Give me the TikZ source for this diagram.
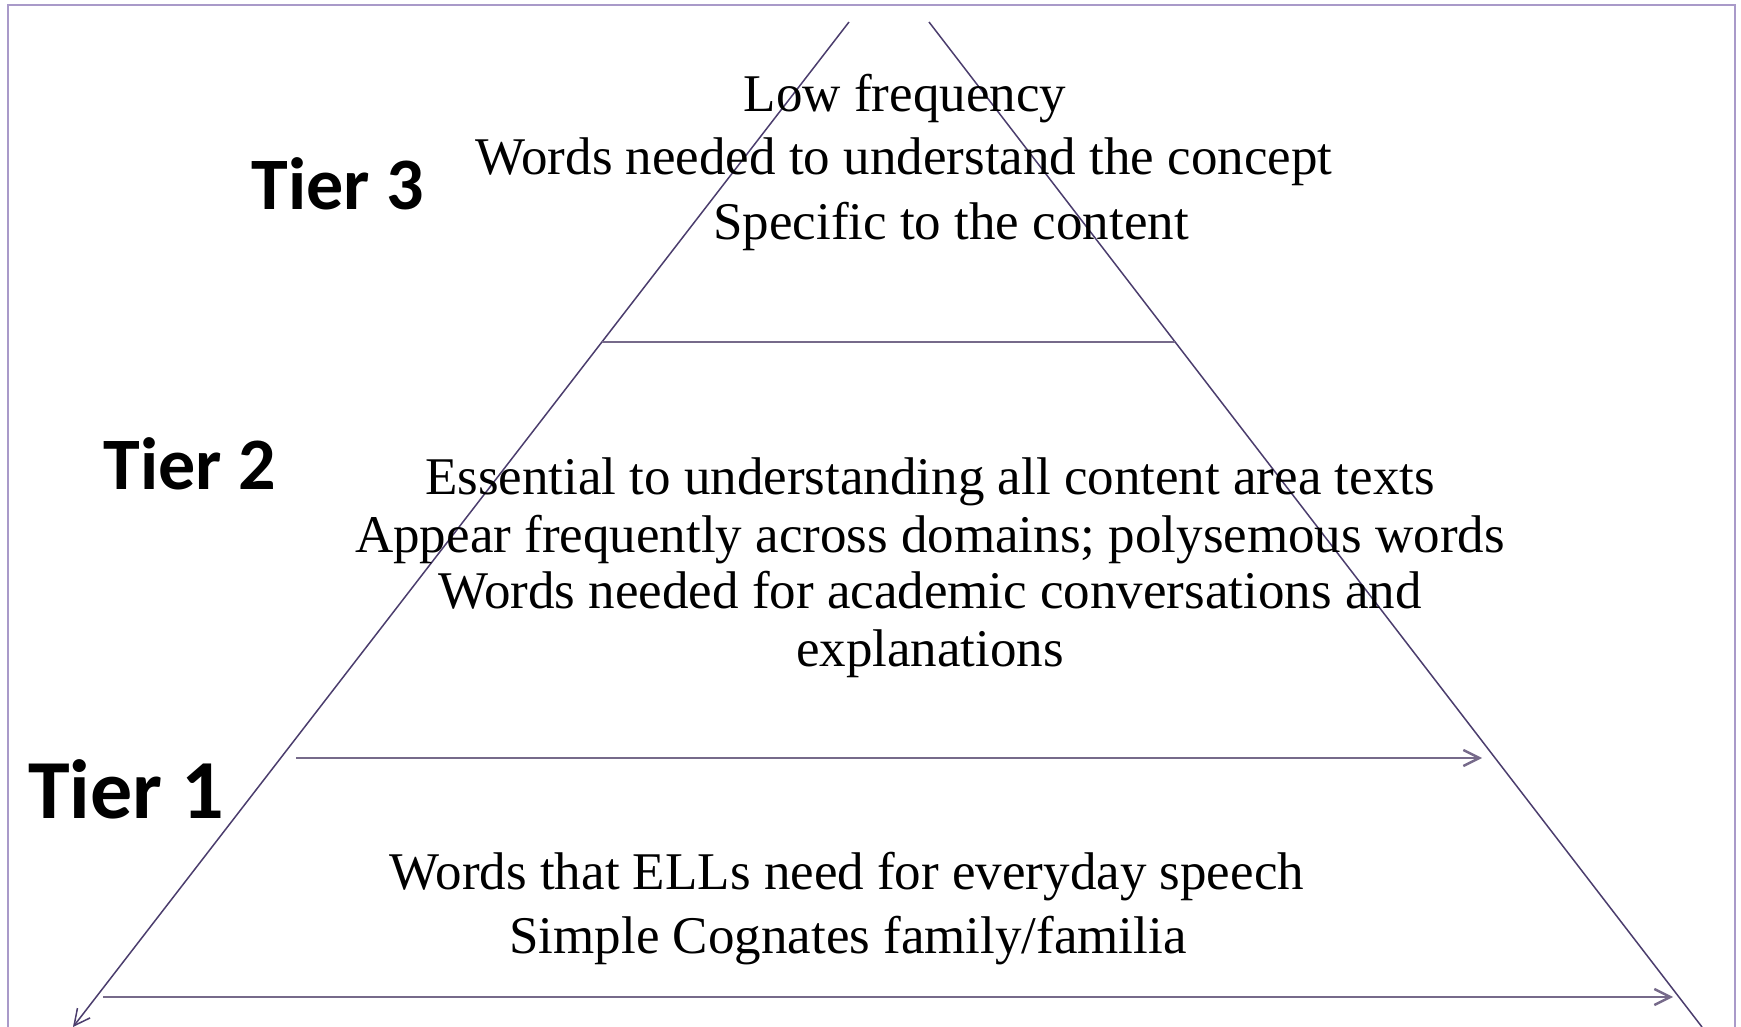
\documentclass[tikz,border=0pt]{standalone}
\usepackage{fontspec}
\setmainfont{Liberation Serif}
\newfontfamily\tierfont{Carlito}
\usetikzlibrary{arrows.meta}
\definecolor{framecol}{HTML}{A99AC9}
\definecolor{edgecol}{HTML}{4B3D6D}
\definecolor{rulecol}{HTML}{766A8A}
\begin{document}
\begin{tikzpicture}[x=0.5pt,y=-0.5pt,
  tier/.style={font=\tierfont\bfseries\fontsize{37}{44}\selectfont, anchor=base, inner sep=0},
  bigtier/.style={tier, font=\tierfont\bfseries\fontsize{42}{50}\selectfont},
  line/.style={font=\fontsize{26.5}{32}\selectfont, anchor=base, inner sep=0},
  side/.style={edgecol, line width=0.75pt},
  rung/.style={rulecol, line width=1.2pt},
  tip/.style={-{Straight Barb[length=8pt,width=8pt]}}]
\useasboundingbox (0,0) rectangle (1741,1027);
% outer frame
\draw[framecol, line width=1.2pt] (8,5) rectangle (1735,1060);

% sides of the pyramid
\coordinate (apexL) at (849,22);
\coordinate (baseL) at (73,1027);
\coordinate (apexR) at (929,22);
\coordinate (baseR) at (1702,1027);
\draw[side,tip] (apexL) -- (baseL);
\draw[side] (apexR) -- (baseR);

% dividing lines between the tiers
\coordinate (r3L) at (602,342);
\coordinate (r3R) at (1175,342);
\coordinate (r2L) at (296,758);
\coordinate (r2R) at (1482,758);
\coordinate (r1L) at (103,997);
\coordinate (r1R) at (1673,997);
\draw[rung] (r3L) -- (r3R);
\draw[rung,tip] (r2L) -- (r2R);
\draw[rung,tip] (r1L) -- (r1R);

% tier labels
\node[tier] (t3) at (338,210) {Tier 3};
\node[tier] (t2) at (190,489) {Tier 2};
\node[bigtier] (t1) at (126,818) {Tier 1};

% tier 3 text
\node[line] (a1) at (905,112) {Low frequency};
\node[line] (a2) at (904,175) {Words needed to understand the concept};
\node[line] (a3) at (951,240) {Specific to the content};

% tier 2 text
\node[line] (b1) at (930,494) {Essential to understanding all content area texts};
\node[line] (b2) at (930,552) {Appear frequently across domains; polysemous words};
\node[line] (b3) at (930,608) {Words needed for academic conversations and};
\node[line] (b4) at (930,666) {explanations};

% tier 1 text
\node[line] (c1) at (847,889) {Words that ELLs need for everyday speech};
\node[line] (c2) at (848,953) {Simple Cognates family/familia};
\end{tikzpicture}
\end{document}
